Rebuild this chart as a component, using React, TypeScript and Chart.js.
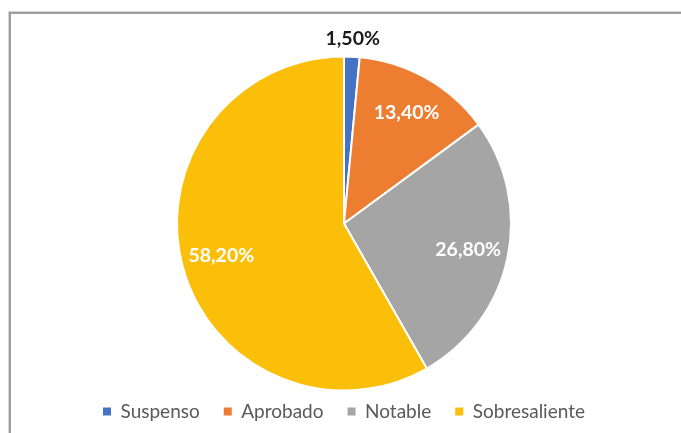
import React, { useEffect, useRef } from "react";
import { Chart, registerables } from "chart.js";

Chart.register(...registerables);

const categories = ["Suspenso", "Aprobado", "Notable", "Sobresaliente"];
const percentages = [1.5, 13.4, 26.8, 58.2];
const sliceColors = ["#4472C4", "#ED7D31", "#A5A5A5", "#FBBF0A"];

const formatPct = (v: number) => v.toFixed(2).replace(".", ",") + "%";

const labelPlugin = {
  id: "sliceLabels",
  afterDatasetsDraw(chart: any) {
    const ctx = chart.ctx;
    const meta = chart.getDatasetMeta(0);
    ctx.save();
    ctx.font = "bold 19.5px Lato";
    ctx.textAlign = "center";
    ctx.textBaseline = "middle";
    meta.data.forEach((arc: any, i: number) => {
      const p = arc.getProps(["x", "y", "startAngle", "endAngle", "outerRadius"], true);
      const mid = (p.startAngle + p.endAngle) / 2;
      const v = percentages[i];
      const outside = v < 5;
      const r = outside ? p.outerRadius + 18 : p.outerRadius * 0.76;
      const x = p.x + Math.cos(mid) * r;
      const y = p.y + Math.sin(mid) * r;
      ctx.fillStyle = outside ? "#1a1a1a" : "#ffffff";
      ctx.fillText(formatPct(v), x, y);
    });
    ctx.restore();
  },
};

export default function App() {
  const ref = useRef<HTMLCanvasElement>(null);
  useEffect(() => {
    if (!ref.current) return;
    const chart = new Chart(ref.current, {
      type: "pie",
      data: {
        labels: categories,
        datasets: [
          {
            data: percentages,
            backgroundColor: sliceColors,
            borderColor: "#ffffff",
            borderWidth: 2,
            radius: 167,
          },
        ],
      },
      options: {
        responsive: false,
        animation: false,
        devicePixelRatio: 1,
        layout: { padding: { left: 7, right: 0, top: 69, bottom: 2 } },
        plugins: {
          tooltip: { enabled: false },
          legend: {
            position: "bottom",
            labels: {
              boxWidth: 8,
              boxHeight: 8,
              padding: 24,
              color: "#595959",
              font: { family: "Lato", size: 19 },
              generateLabels: (c: any) =>
                (Chart as any).overrides.pie.plugins.legend.labels
                  .generateLabels(c)
                  .map((it: any) => ({ ...it, lineWidth: 0, strokeStyle: it.fillStyle })),
            },
          },
        },
      },
      plugins: [labelPlugin],
    } as any);
    return () => chart.destroy();
  }, []);
  return (
    <>
      <div
        style={{
          position: "fixed",
          left: 9,
          top: 12,
          width: 900,
          height: 700,
          borderTop: "2px solid #9f9f9f",
          borderLeft: "2px solid #9f9f9f",
          boxShadow: "-1px -1px 0 #d6d6d6",
          background: "#fff",
        }}
      />
      <div style={{ position: "fixed", left: 0, top: 0, width: 681, height: 433 }}>
        <canvas ref={ref} width={681} height={433} style={{ display: "block" }} />
      </div>
    </>
  );
}
